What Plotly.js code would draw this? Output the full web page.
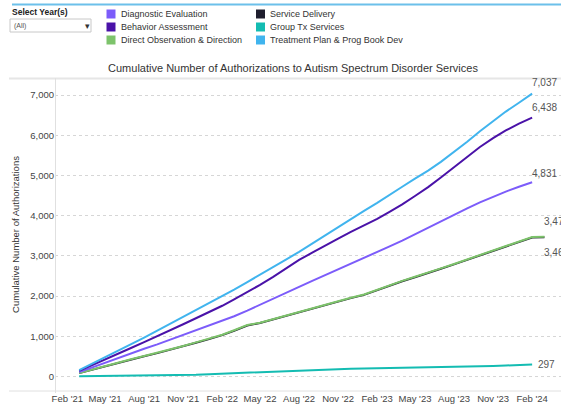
<!DOCTYPE html>
<html>
<head>
<meta charset="utf-8">
<script src="https://cdn.plot.ly/plotly-3.0.1.min.js"></script>
<style>
  html, body { margin: 0; padding: 0; background: #fff; }
  #chart { width: 561px; height: 409px; }
</style>
</head>
<body>
<div id="chart"></div>
<script>
// months with data (first of month), Mar 2021 .. Feb 2024
const months = [
  '2021-03-01','2021-04-01','2021-05-01','2021-06-01','2021-07-01','2021-08-01',
  '2021-09-01','2021-10-01','2021-11-01','2021-12-01','2022-01-01','2022-02-01',
  '2022-03-01','2022-04-01','2022-05-01','2022-06-01','2022-07-01','2022-08-01',
  '2022-09-01','2022-10-01','2022-11-01','2022-12-01','2023-01-01','2023-02-01',
  '2023-03-01','2023-04-01','2023-05-01','2023-06-01','2023-07-01','2023-08-01',
  '2023-09-01','2023-10-01','2023-11-01','2023-12-01','2024-01-01','2024-02-01'
];
// two series run one month longer
const monthsLong = months.concat(['2024-03-01']);

const diagnostic = [110,230,345,460,575,690,800,915,1030,1140,1260,1380,1500,1640,1780,1930,2080,2230,
  2380,2520,2660,2790,2940,3080,3230,3380,3540,3700,3860,4020,4180,4330,4470,4600,4720,4831];
const behavior = [140,280,420,565,710,855,1000,1150,1300,1450,1600,1760,1920,2100,2280,2480,2690,2900,
  3080,3260,3430,3600,3760,3920,4090,4280,4490,4710,4950,5200,5460,5710,5930,6120,6290,6438];
const directObs = [90,180,265,350,430,510,590,670,760,850,940,1040,1150,1280,1340,1430,1520,1610,
  1710,1800,1880,1960,2040,2160,2270,2380,2480,2580,2690,2800,2910,3020,3130,3240,3360,3470,3474];
const serviceDel = [85,172,258,342,422,503,582,662,752,842,931,1030,1140,1268,1330,1420,1510,1600,
  1700,1790,1870,1950,2030,2150,2260,2370,2470,2570,2680,2790,2900,3010,3120,3230,3350,3458,3463];
const groupTx = [5,8,10,12,15,18,22,28,35,45,58,72,85,100,115,130,142,155,
  165,178,188,195,200,205,210,215,222,230,238,245,252,258,262,275,292,297];
const treatment = [160,320,480,640,800,970,1140,1310,1480,1650,1820,1990,2160,2350,2540,2720,2910,3100,
  3310,3510,3720,3920,4120,4320,4520,4720,4920,5120,5340,5580,5840,6100,6350,6590,6810,7037];

const xTicks = ['2021-02-01','2021-05-01','2021-08-01','2021-11-01','2022-02-01','2022-05-01','2022-08-01',
  '2022-11-01','2023-02-01','2023-05-01','2023-08-01','2023-11-01','2024-02-01'];
const yTicks = [0, 1000, 2000, 3000, 4000, 5000, 6000, 7000];

const legendNames = ['Diagnostic Evaluation','Behavior Assessment','Direct Observation & Direction',
  'Service Delivery','Group Tx Services','Treatment Plan & Prog Book Dev'];
const colors = {
  diag: '#7c5cfa', beh: '#4a12a8', dir: '#7dc36b',
  svc: '#1f1e2e', grp: '#14bcb2', trt: '#40b4ee'
};
const legendColors = [colors.diag, colors.beh, colors.dir, colors.svc, colors.grp, colors.trt];

const FONT = 'Arial, "Liberation Sans", sans-serif';

function line(x, y, name, color) {
  return { x: x, y: y, name: name, type: 'scatter', mode: 'lines',
           line: { color: color, width: 2 }, hoverinfo: 'skip' };
}

const traces = [
  line(monthsLong, serviceDel, 'Service Delivery', colors.svc),
  line(monthsLong, directObs, 'Direct Observation & Direction', colors.dir),
  line(months, groupTx, 'Group Tx Services', colors.grp),
  line(months, diagnostic, 'Diagnostic Evaluation', colors.diag),
  line(months, behavior, 'Behavior Assessment', colors.beh),
  line(months, treatment, 'Treatment Plan & Prog Book Dev', colors.trt)
];

// plot area in pixels: x 55..561, y 78..391
const L = 55, R = 561, T = 78, B = 391;
const px = x => (x - L) / (R - L);
const py = y => (B - y) / (B - T);

const last = a => a[a.length - 1];
const endLabel = (x, y, xs, ys) => ({
  x: x, y: y, xref: 'x', yref: 'y', text: y.toLocaleString('en-US'), showarrow: false,
  xanchor: 'left', yanchor: 'middle', xshift: xs, yshift: ys,
  font: { family: FONT, size: 10, color: '#555' }
});

const annotations = [
  endLabel(last(months), last(treatment), -2, 11),
  endLabel(last(months), last(behavior), -2, 10),
  endLabel(last(months), last(diagnostic), -2, 9),
  endLabel(last(monthsLong), last(directObs), -2, 15),
  endLabel(last(monthsLong), last(serviceDel), -2, -15),
  endLabel(last(months), last(groupTx), 4, 0),
  { xref: 'paper', yref: 'paper', x: px(10), y: py(12), text: '<b>Select Year(s)</b>', showarrow: false,
    xanchor: 'left', yanchor: 'middle', font: { family: FONT, size: 8.5, color: '#222' } },
  { xref: 'paper', yref: 'paper', x: px(12), y: py(25.5), text: '(All)', showarrow: false,
    xanchor: 'left', yanchor: 'middle', font: { family: FONT, size: 7, color: '#555' } },
  { xref: 'paper', yref: 'paper', x: px(87), y: py(25.5), text: '▾', showarrow: false,
    xanchor: 'center', yanchor: 'middle', font: { family: FONT, size: 9, color: '#333' } }
];

const shapes = [
  // top blue rule
  { type: 'line', xref: 'paper', yref: 'paper', x0: px(12), x1: px(561), y0: py(4.5), y1: py(4.5),
    line: { color: '#6cc0ea', width: 2 } },
  // dropdown box
  { type: 'rect', xref: 'paper', yref: 'paper', x0: px(10), x1: px(91), y0: py(19), y1: py(32),
    line: { color: '#c8c8c8', width: 1 }, fillcolor: '#fff' },
  // header/base rules of the pane
  { type: 'line', xref: 'paper', yref: 'paper', x0: px(9), x1: px(561), y0: py(78.5), y1: py(78.5),
    line: { color: '#e6e6e6', width: 2 } },
  { type: 'line', xref: 'paper', yref: 'paper', x0: px(9), x1: px(561), y0: py(391), y1: py(391),
    line: { color: '#e0e0e0', width: 1 } },
  { type: 'line', xref: 'paper', yref: 'paper', x0: px(55.5), x1: px(55.5), y0: py(78), y1: py(393),
    line: { color: '#e0e0e0', width: 1 } },
  // zero line
  { type: 'line', xref: 'paper', yref: 'y', x0: 0, x1: 1, y0: 0, y1: 0, layer: 'below',
    line: { color: '#b0b0b0', width: 1, dash: 'dot' } }
];

// legend: two columns of three
legendNames.forEach((name, i) => {
  const col = Math.floor(i / 3), row = i % 3;
  const sx = col === 0 ? 106.5 : 256;
  const cy = 14 + row * 13;
  shapes.push({ type: 'rect', xref: 'paper', yref: 'paper', x0: px(sx), x1: px(sx + 9),
    y0: py(cy - 4.5), y1: py(cy + 4.5), line: { width: 0 }, fillcolor: legendColors[i] });
  annotations.push({ xref: 'paper', yref: 'paper', x: px(sx + 12), y: py(cy), text: name.replace('&', '&amp;'),
    showarrow: false, xanchor: 'left', yanchor: 'middle', font: { family: FONT, size: 9, color: '#333' } });
});

const layout = {
  width: 561, height: 409,
  margin: { l: L, r: 561 - R, t: T, b: 409 - B },
  paper_bgcolor: '#fff', plot_bgcolor: '#fff',
  showlegend: false,
  hovermode: false,
  font: { family: FONT, color: '#333' },
  title: {
    text: 'Cumulative Number of Authorizations to Autism Spectrum Disorder Services',
    x: 293 / 561, xanchor: 'center', y: 1 - 68 / 409, yanchor: 'middle',
    font: { family: FONT, size: 11, color: '#333' }
  },
  xaxis: {
    type: 'date', range: ['2021-01-03', '2024-04-09'],
    tickmode: 'array', tickvals: xTicks, tickformat: "%b '%y",
    showgrid: false, zeroline: false, showline: false, ticks: '',
    ticklabelstandoff: 0,
    tickfont: { family: FONT, size: 9.5, color: '#444' }
  },
  yaxis: {
    range: [-360, 7425],
    tickmode: 'array', tickvals: yTicks, tickformat: ',d',
    showgrid: true, gridcolor: '#d6d6d6', griddash: 'dot', gridwidth: 1,
    zeroline: false, showline: false, ticks: '',
    tickfont: { family: FONT, size: 9.5, color: '#444' },
    title: { text: 'Cumulative Number of Authorizations', standoff: 8,
             font: { family: FONT, size: 9.5, color: '#333' } }
  },
  shapes: shapes,
  annotations: annotations
};

Plotly.newPlot('chart', traces, layout, { displayModeBar: false, staticPlot: true });
</script>
</body>
</html>
